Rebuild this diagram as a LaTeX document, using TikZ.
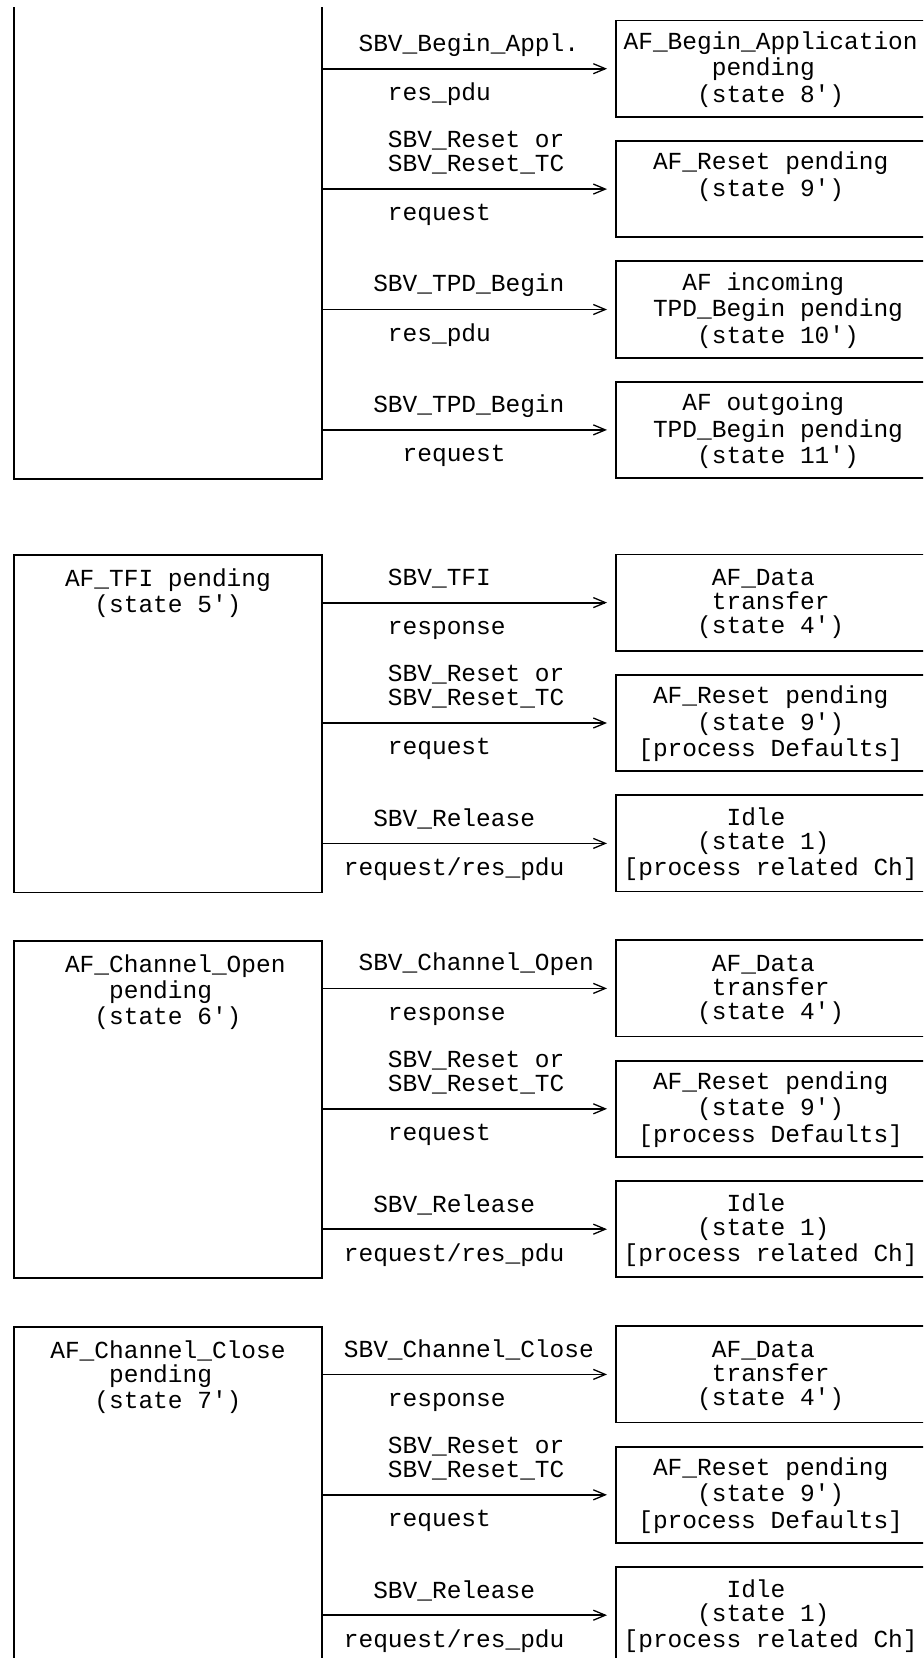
\documentclass[tikz,border=0pt]{standalone}
\usepackage{fontspec}
\usetikzlibrary{arrows.meta}
\newfontfamily\monoff{Liberation Mono}
\newcommand{\rs}{\rule[-2.345pt]{0pt}{12.04pt}}
\newcommand{\q}{\textquotesingle}
\newcommand{\ph}{\phantom{x}}
\tikzset{
  txt/.style={inner sep=0pt, font=\monoff\fontsize{12.25pt}{12.04pt}\selectfont, text=black},
  lab/.style={txt, align=left},
  labA/.style={lab, anchor=south west},
  labB/.style={lab, anchor=north west},
  rbox/.style={draw, rectangle, line width=0.9pt, inner sep=0pt, minimum width=154.35pt,
    minimum height=48.16pt, anchor=west, txt, align=center},
  lbox/.style={draw, rectangle, line width=0.9pt, inner sep=0pt, minimum width=154.35pt,
    anchor=north west},
  ltxt/.style={txt, align=center, anchor=north, yshift=-6.02pt},
  conn/.style={line width=0.9pt, -{Straight Barb[length=6pt,width=5pt,line width=0.65pt]},
    shorten >=4.2pt}
}
\begin{document}
\begin{tikzpicture}[x=0.5pt,y=-0.5pt]
\useasboundingbox (0,0) rectangle (923,1658);
\clip (0,8) rectangle (923,1658);

% ---------------- section 1
\node[lbox, minimum height=249.05pt] (L1) at (12.7,-20) {};
\node[rbox] (R11) at (615.4,68.7) {\rs AF\_Begin\_Application\\\rs pending\ph\\\rs (state 8\q)};
\node[rbox] (R12) at (615.4,189.1) {\rs AF\_Reset pending\\\rs (state 9\q)\\\rs};
\node[rbox] (R13) at (615.4,309.5) {\rs AF incoming\ph\\\rs \ph TPD\_Begin pending\\\rs \ph(state 10\q)};
\node[rbox] (R14) at (615.4,429.9) {\rs AF outgoing\ph\\\rs \ph TPD\_Begin pending\\\rs \ph(state 11\q)};
\draw[conn] (L1.east |- R11.west) -- (R11.west);
\draw[conn] (L1.east |- R12.west) -- (R12.west);
\draw[conn] (L1.east |- R13.west) -- (R13.west);
\draw[conn] (L1.east |- R14.west) -- (R14.west);
\node[labA] (t11a) at (358.15,56.66) {\rs SBV\_Begin\_Appl.};
\node[labB] (t11b) at (387.55,80.74) {\rs res\_pdu};
\node[labA] (t12a) at (387.55,177.06) {\rs SBV\_Reset or\\\rs SBV\_Reset\_TC};
\node[labB] (t12b) at (387.55,201.14) {\rs request};
\node[labA] (t13a) at (372.85,297.46) {\rs SBV\_TPD\_Begin};
\node[labB] (t13b) at (387.55,321.54) {\rs res\_pdu};
\node[labA] (t14a) at (372.85,417.86) {\rs SBV\_TPD\_Begin};
\node[labB] (t14b) at (402.25,441.94) {\rs request};

% ---------------- section 2
\node[lbox, minimum height=168.6pt,
  label={[ltxt]north:\rs AF\_TFI pending\\\rs (state 5\q)}] (L2) at (12.7,554.4) {};
\node[rbox] (R21) at (615.4,602.6) {\rs AF\_Data\ph\\\rs transfer\\\rs (state 4\q)};
\node[rbox] (R22) at (615.4,723.0) {\rs AF\_Reset pending\\\rs (state 9\q)\\\rs [process Defaults]};
\node[rbox] (R23) at (615.4,843.4) {\rs Idle\ph\ph\\\rs (state 1)\ph\\\rs [process related Ch]};
\draw[conn] (L2.east |- R21.west) -- (R21.west);
\draw[conn] (L2.east |- R22.west) -- (R22.west);
\draw[conn] (L2.east |- R23.west) -- (R23.west);
\node[labA] (t21a) at (387.55,590.56) {\rs SBV\_TFI};
\node[labB] (t21b) at (387.55,614.64) {\rs response};
\node[labA] (t22a) at (387.55,710.96) {\rs SBV\_Reset or\\\rs SBV\_Reset\_TC};
\node[labB] (t22b) at (387.55,735.04) {\rs request};
\node[labA] (t23a) at (372.85,831.36) {\rs SBV\_Release};
\node[labB] (t23b) at (343.45,855.44) {\rs request/res\_pdu};

% ---------------- section 3
\node[lbox, minimum height=168.6pt,
  label={[ltxt]north:\rs \ph AF\_Channel\_Open\\\rs pending\ph\\\rs (state 6\q)}] (L3) at (12.7,940.2) {};
\node[rbox] (R31) at (615.4,988.4) {\rs AF\_Data\ph\\\rs transfer\\\rs (state 4\q)};
\node[rbox] (R32) at (615.4,1108.8) {\rs AF\_Reset pending\\\rs (state 9\q)\\\rs [process Defaults]};
\node[rbox] (R33) at (615.4,1229.2) {\rs Idle\ph\ph\\\rs (state 1)\ph\\\rs [process related Ch]};
\draw[conn] (L3.east |- R31.west) -- (R31.west);
\draw[conn] (L3.east |- R32.west) -- (R32.west);
\draw[conn] (L3.east |- R33.west) -- (R33.west);
\node[labA] (t31a) at (358.15,976.36) {\rs SBV\_Channel\_Open};
\node[labB] (t31b) at (387.55,1000.44) {\rs response};
\node[labA] (t32a) at (387.55,1096.76) {\rs SBV\_Reset or\\\rs SBV\_Reset\_TC};
\node[labB] (t32b) at (387.55,1120.84) {\rs request};
\node[labA] (t33a) at (372.85,1217.16) {\rs SBV\_Release};
\node[labB] (t33b) at (343.45,1241.24) {\rs request/res\_pdu};

% ---------------- section 4
\node[lbox, minimum height=168.6pt,
  label={[ltxt]north:\rs AF\_Channel\_Close\\\rs pending\ph\\\rs (state 7\q)}] (L4) at (12.7,1326.2) {};
\node[rbox] (R41) at (615.4,1374.4) {\rs AF\_Data\ph\\\rs transfer\\\rs (state 4\q)};
\node[rbox] (R42) at (615.4,1494.8) {\rs AF\_Reset pending\\\rs (state 9\q)\\\rs [process Defaults]};
\node[rbox] (R43) at (615.4,1615.2) {\rs Idle\ph\ph\\\rs (state 1)\ph\\\rs [process related Ch]};
\draw[conn] (L4.east |- R41.west) -- (R41.west);
\draw[conn] (L4.east |- R42.west) -- (R42.west);
\draw[conn] (L4.east |- R43.west) -- (R43.west);
\node[labA] (t41a) at (343.45,1362.36) {\rs SBV\_Channel\_Close};
\node[labB] (t41b) at (387.55,1386.44) {\rs response};
\node[labA] (t42a) at (387.55,1482.76) {\rs SBV\_Reset or\\\rs SBV\_Reset\_TC};
\node[labB] (t42b) at (387.55,1506.84) {\rs request};
\node[labA] (t43a) at (372.85,1603.16) {\rs SBV\_Release};
\node[labB] (t43b) at (343.45,1627.24) {\rs request/res\_pdu};
\end{tikzpicture}
\end{document}
